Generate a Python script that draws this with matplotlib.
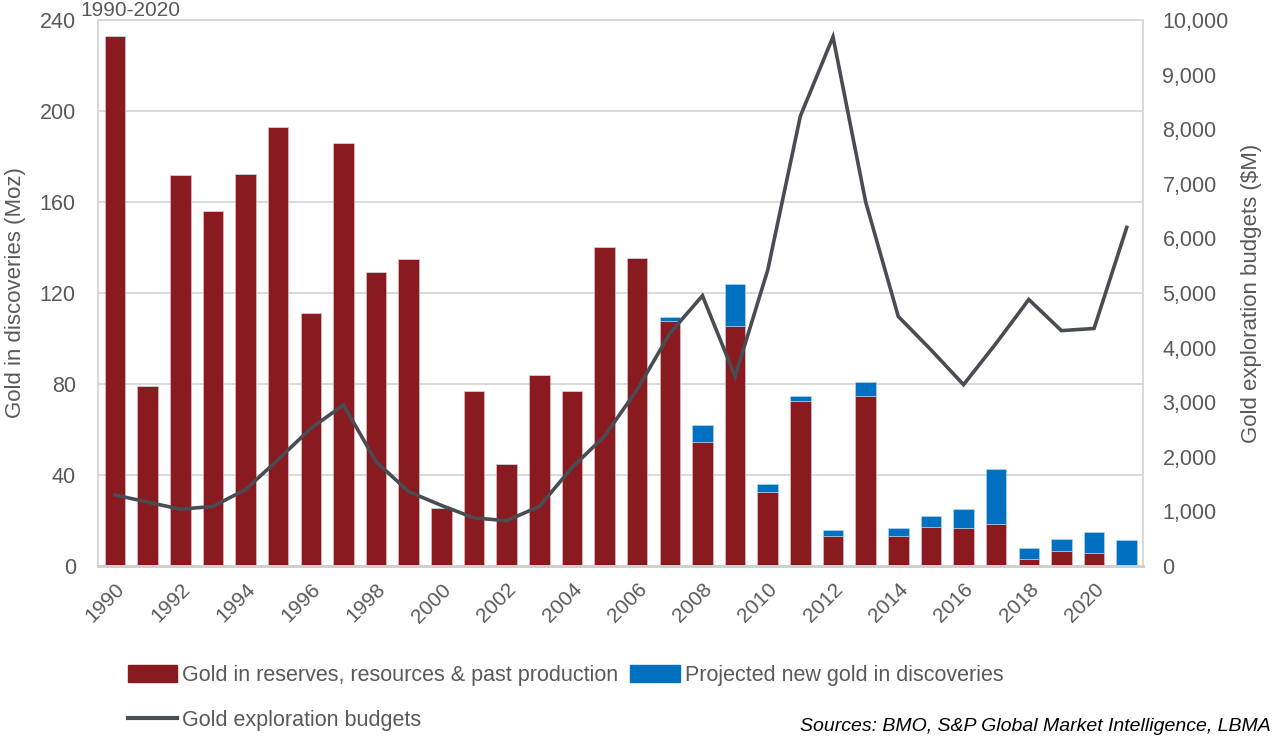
import matplotlib.pyplot as plt
from matplotlib.ticker import FuncFormatter
from matplotlib.patches import Patch
from matplotlib.lines import Line2D

years = list(range(1990, 2022))
reserves = [233, 79, 172, 156, 172.5, 193, 111, 186, 129, 135,
            25.5, 77, 45, 84, 77, 140, 135.5, 107.5, 54.5, 105.5,
            32.5, 72.5, 13, 74.5, 13, 17, 16.8, 18.5, 3.2, 6.6,
            5.9, 0]
projected = [0, 0, 0, 0, 0, 0, 0, 0, 0, 0,
             0, 0, 0, 0, 0, 0, 0, 2, 7.3, 18.3,
             3.4, 2.1, 2.8, 6.5, 3.5, 5, 8.1, 24, 4.6, 5.3,
             9.2, 11.4]
budgets = [1300, 1170, 1040, 1090, 1400, 1950, 2520, 2950, 1910, 1360,
           1110, 880, 830, 1090, 1800, 2380, 3230, 4260, 4950, 3470,
           5420, 8240, 9690, 6670, 4570, 3960, 3320, 4080, 4880, 4310,
           4350, 6200]

RED = "#891A1F"
BLUE = "#0070C0"
LINE = "#4A4C54"
TXT = "#595959"
GRID = "#D9D9D9"

plt.rcParams["font.family"] = ["Liberation Sans Narrow", "Liberation Sans", "DejaVu Sans"]

fig = plt.figure(figsize=(12.75, 7.36), dpi=100)
ax = fig.add_axes([0.0769, 0.231, 0.8196, 0.7419])
ax2 = ax.twinx()

x = list(range(len(years)))
ax.bar(x, reserves, width=0.63, color=RED, edgecolor="#E8C8C8", linewidth=0.4, zorder=2)
ax.bar(x, projected, width=0.63, bottom=reserves, color=BLUE,
       edgecolor="#BFD9EE", linewidth=0.4, zorder=2)
ax2.plot(x, budgets, color=LINE, linewidth=2.6, solid_joinstyle="miter", zorder=3)

ax.set_xlim(-0.52, len(years) - 0.5)
ax.set_ylim(0, 240)
ax.set_yticks(range(0, 241, 40))
ax2.set_ylim(0, 10000)
ax2.set_yticks(range(0, 10001, 1000))
ax2.yaxis.set_major_formatter(FuncFormatter(lambda v, p: f"{int(v):,}"))

ax.yaxis.grid(True, color=GRID, linewidth=1.4, zorder=0)
ax.set_axisbelow(True)

ax.set_xticks(x[::2])
ax.set_xticklabels([str(y) for y in years[::2]], rotation=45, ha="right",
                   rotation_mode="anchor", fontsize=15, color=TXT)
ax.tick_params(axis="x", length=0, pad=10)
ax.tick_params(axis="y", length=0, labelsize=15.5, labelcolor=TXT, pad=16)
ax2.tick_params(axis="y", length=0, labelsize=15.5, labelcolor=TXT, pad=14)

for a in (ax, ax2):
    for side in ("left", "right", "top"):
        a.spines[side].set_color(GRID)
        a.spines[side].set_linewidth(1.4)
    a.spines["bottom"].set_color("#CFCFCF")
    a.spines["bottom"].set_linewidth(2)

ax.set_ylabel("Gold in discoveries (Moz)", fontsize=16, color=TXT, labelpad=10)
ax2.set_ylabel("Gold exploration budgets ($M)", fontsize=16, color=TXT, labelpad=9)

handles = [
    Patch(facecolor=RED, edgecolor=RED),
    Line2D([0], [0], color=LINE, linewidth=3),
    Patch(facecolor=BLUE, edgecolor=BLUE),
]
labels = [
    "Gold in reserves, resources & past production",
    "Gold exploration budgets",
    "Projected new gold in discoveries",
]
fig.legend(handles, labels, ncol=2, loc="upper left",
           bbox_to_anchor=(0.1, 0.097), frameon=False, fontsize=15.5,
           labelcolor=TXT, handlelength=2.3, handleheight=0.85,
           handletextpad=0.25, columnspacing=0.55, labelspacing=1.15,
           borderaxespad=0, borderpad=0)

fig.text(0.063, 0.999, "1990-2020", fontsize=15, color=TXT, ha="left", va="top")
fig.text(0.997, 0.001, "Sources: BMO, S&P Global Market Intelligence, LBMA",
         fontsize=14, style="italic", color="black", ha="right", va="bottom")

fig.savefig("out.png", dpi=100)
